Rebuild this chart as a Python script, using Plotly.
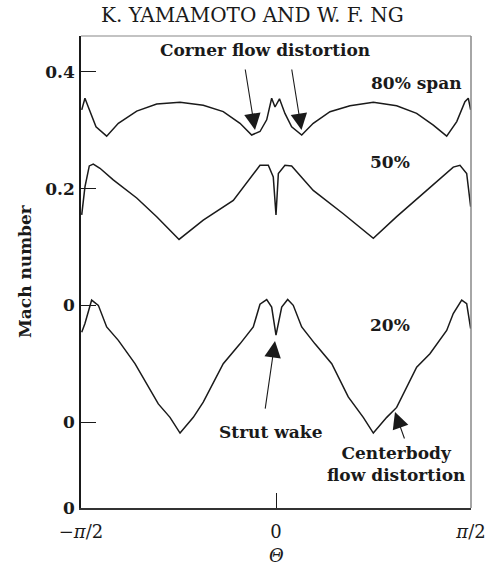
import math
import plotly.graph_objects as go

# theta in radians, Mach number (offset curves as plotted)
theta_80 = [-1.565, -1.539, -1.512, -1.450, -1.364, -1.270, -1.122, -0.961, -0.773, -0.586,
            -0.425, -0.290, -0.196, -0.129, -0.075, -0.035, -0.008, 0.028, 0.072, 0.126,
            0.207, 0.300, 0.435, 0.596, 0.784, 0.972, 1.133, 1.267, 1.375, 1.456,
            1.522, 1.549, 1.568]
mach_80 = [0.335, 0.355, 0.340, 0.306, 0.290, 0.312, 0.333, 0.345, 0.348, 0.343,
           0.332, 0.312, 0.292, 0.298, 0.318, 0.355, 0.340, 0.354, 0.329, 0.306,
           0.292, 0.312, 0.332, 0.342, 0.348, 0.342, 0.329, 0.309, 0.290, 0.315,
           0.349, 0.355, 0.335]

theta_50 = [-1.565, -1.539, -1.504, -1.472, -1.418, -1.311, -1.122, -0.961, -0.781, -0.586,
            -0.344, -0.129, -0.062, -0.022, 0.000, 0.019, 0.072, 0.126, 0.300, 0.542,
            0.784, 0.972, 1.214, 1.428, 1.482, 1.536, 1.568]
mach_50 = [0.155, 0.203, 0.239, 0.242, 0.235, 0.215, 0.184, 0.152, 0.113, 0.146,
           0.180, 0.240, 0.240, 0.220, 0.155, 0.226, 0.240, 0.239, 0.197, 0.157,
           0.115, 0.152, 0.197, 0.237, 0.240, 0.226, 0.169]

theta_20 = [-1.565, -1.539, -1.485, -1.431, -1.364, -1.270, -1.136, -1.042, -0.948, -0.854,
            -0.773, -0.666, -0.586, -0.425, -0.290, -0.183, -0.129, -0.075, -0.035, 0.000,
            0.046, 0.094, 0.139, 0.207, 0.314, 0.449, 0.582, 0.703, 0.784, 0.892,
            0.972, 1.133, 1.240, 1.375, 1.428, 1.496, 1.536, 1.568]
mach_20 = [-0.046, -0.031, 0.009, 0.000, -0.037, -0.060, -0.100, -0.134, -0.169, -0.192,
           -0.219, -0.192, -0.166, -0.100, -0.066, -0.037, 0.002, 0.010, -0.003, -0.051,
           -0.003, 0.010, 0.000, -0.037, -0.066, -0.100, -0.157, -0.192, -0.219, -0.192,
           -0.175, -0.106, -0.083, -0.043, -0.014, 0.009, 0.003, -0.040]

x_tickvals = [-math.pi / 2, 0, math.pi / 2]
x_ticktext = ["\u2212<i>\u03c0</i>/2", "0", "<i>\u03c0</i>/2"]
y_bottom = -0.3474
y_top = 0.4617
y_tickvals = [0.4, 0.2, 0.0, -0.2, y_bottom]
y_ticktext = ["<b>0.4</b>", "<b>0.2</b>", "<b>0</b>", "<b>0</b>", "<b>0</b>"]

FONT = "DejaVu Serif"
INK = "#1a1a1a"

fig = go.Figure()
for tx, my in [(theta_80, mach_80), (theta_50, mach_50), (theta_20, mach_20)]:
    fig.add_trace(go.Scatter(x=tx, y=my, mode="lines",
                             line=dict(color=INK, width=1.5), showlegend=False,
                             hoverinfo="skip"))

def txt(x, y, s, size=16, xref="x", yref="y", **kw):
    fig.add_annotation(x=x, y=y, xref=xref, yref=yref, text=s, showarrow=False,
                       xanchor="center", yanchor="middle",
                       font=dict(family=FONT, size=size, color=INK), **kw)

def arrow(x, y, ax, ay):
    fig.add_annotation(x=x, y=y, ax=ax, ay=ay, xref="x", yref="y", axref="x", ayref="y",
                       text="", showarrow=True, arrowhead=2, arrowsize=3.0,
                       arrowwidth=1.1, arrowcolor=INK, standoff=0)

txt(-0.0886, 0.4377, "<b>Corner flow distortion</b>", size=17)
arrow(-0.169, 0.3006, -0.2497, 0.4069)
arrow(0.2054, 0.3006, 0.1249, 0.4069)
txt(1.128, 0.381, "<b>80% span</b>", size=17)
txt(0.918, 0.2457, "<b>50%</b>", size=17)
txt(0.918, -0.0337, "<b>20%</b>", size=17)
txt(-0.040, -0.217, "<b>Strut wake</b>", size=17)
arrow(-0.008, -0.0612, -0.0886, -0.1795)
txt(0.967, -0.272, "<b>Centerbody<br>flow distortion</b>", size=17)
arrow(0.9586, -0.1829, 1.039, -0.2309)

txt(0.4385, 1.0445, "K. YAMAMOTO AND W. F. NG", size=20, xref="paper", yref="paper")
txt(-0.1436, 0.502, "<b>Mach number</b>", size=17, xref="paper", yref="paper", textangle=-90)
txt(0.5, -0.0996, "<i>\u0398</i>", size=18, xref="paper", yref="paper")

# top and right frame lines (lighter)
fig.add_shape(type="line", xref="paper", yref="paper", x0=0, x1=1, y0=1, y1=1,
              line=dict(color="#888888", width=1.2))
fig.add_shape(type="line", xref="paper", yref="paper", x0=1, x1=1, y0=0, y1=1,
              line=dict(color="#888888", width=1.5))

fig.update_layout(
    width=487, height=569,
    margin=dict(l=81, r=16, t=36, b=61),
    paper_bgcolor="white", plot_bgcolor="white",
    font=dict(family=FONT, size=16, color=INK),
    xaxis=dict(range=[-math.pi / 2, math.pi / 2], tickvals=x_tickvals, ticktext=x_ticktext,
               ticks="inside", ticklen=15, tickwidth=1.2, tickcolor=INK, automargin=False,
               showline=True, linecolor="#333333", linewidth=1.5, ticklabelstandoff=7,
               showgrid=False, zeroline=False, tickfont=dict(size=18)),
    yaxis=dict(range=[y_bottom, y_top], tickvals=y_tickvals, ticktext=y_ticktext,
               ticks="inside", ticklen=15, tickwidth=1.2, tickcolor=INK, automargin=False,
               showline=True, linecolor=INK, linewidth=1.5, ticklabelstandoff=1,
               showgrid=False, zeroline=False, tickfont=dict(size=17)),
)

fig.write_html("out.html")
